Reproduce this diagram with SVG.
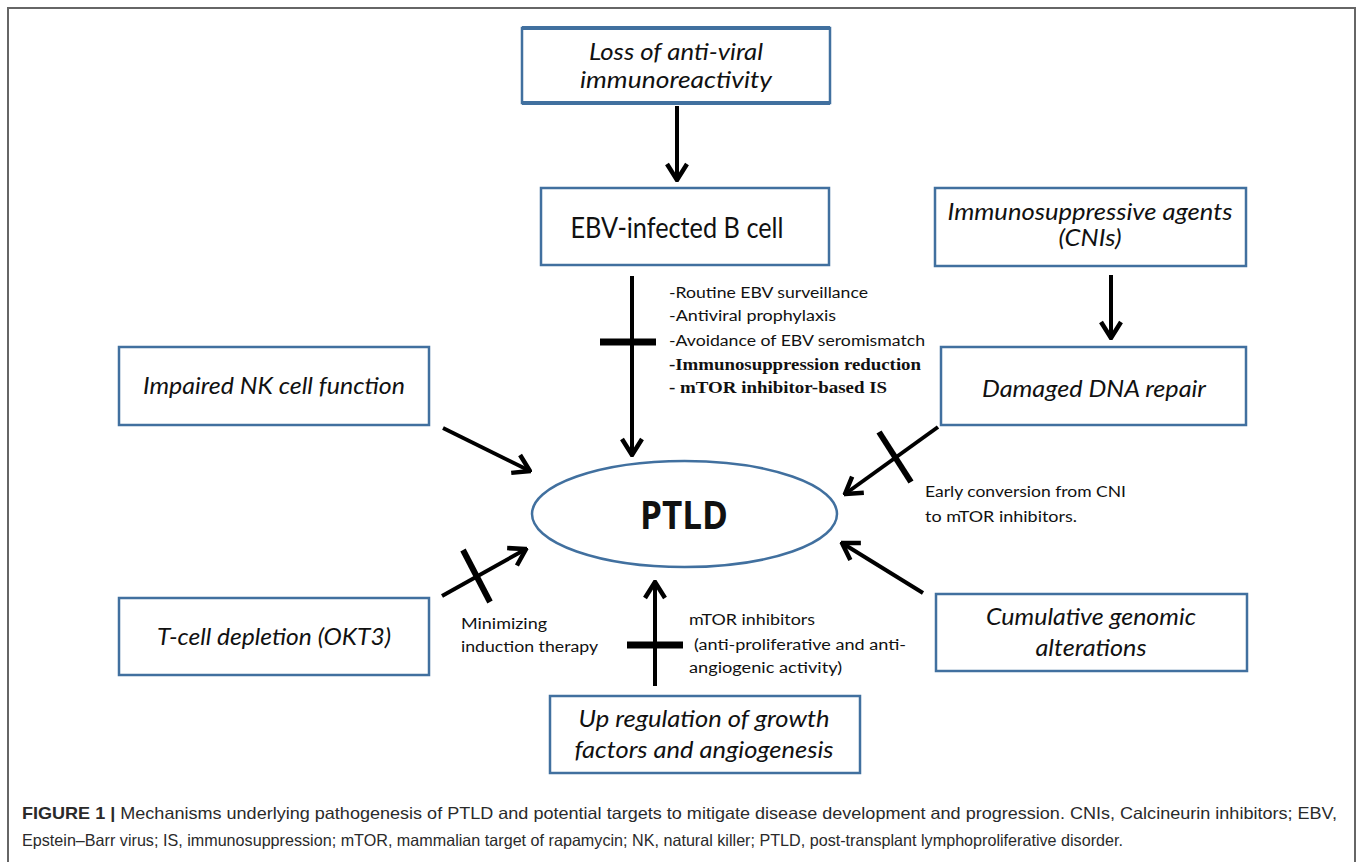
<svg xmlns="http://www.w3.org/2000/svg" width="1358" height="862" viewBox="0 0 1358 862">
<style>
.box{fill:#fff;stroke:#41709f;stroke-width:2.5}
.bt{font-family:Lato,"Open Sans",sans-serif;font-style:italic;font-size:23px;fill:#111;text-anchor:middle}
.ann{font-family:Lato,"Open Sans",sans-serif;font-size:15.5px;fill:#111}
.annb{font-family:"Liberation Serif",serif;font-weight:bold;font-size:16px;fill:#111}
.con{stroke:#000;stroke-width:4;fill:none}
.blk{stroke:#000;stroke-width:7;fill:none}
.cap{font-family:"Liberation Sans",Arial,sans-serif;font-size:16.5px;fill:#2a2a2a}
</style>
<defs>
<marker id="arr" viewBox="-20 -13 22 26" refX="0" refY="0" markerWidth="22" markerHeight="26" markerUnits="userSpaceOnUse" orient="auto">
<path d="M-16,-10 L0,0 L-16,10" stroke="#000" stroke-width="4.5" fill="none" stroke-linejoin="miter"/>
</marker>
</defs>
<rect x="0" y="0" width="1358" height="862" fill="#fff"/>
<rect x="8" y="8" width="1347" height="880" fill="none" stroke="#666" stroke-width="2"/>

<g id="connectors">
<line class="con" x1="677" y1="106" x2="677" y2="180" marker-end="url(#arr)"/>
<line class="con" x1="632" y1="276" x2="632" y2="455" marker-end="url(#arr)"/>
<line class="blk" x1="600" y1="342" x2="656" y2="342"/>
<line class="con" x1="1111" y1="275" x2="1111" y2="338" marker-end="url(#arr)"/>
<line class="con" x1="938" y1="427" x2="845" y2="494" marker-end="url(#arr)"/>
<line class="con" x1="879" y1="432" x2="911" y2="482" style="stroke-width:6"/>
<line class="con" x1="443" y1="428" x2="530" y2="471" marker-end="url(#arr)"/>
<line class="con" x1="442" y1="596" x2="526" y2="549" marker-end="url(#arr)"/>
<line class="con" x1="463" y1="550" x2="490" y2="602" style="stroke-width:6"/>
<line class="con" x1="655" y1="686" x2="655" y2="582" marker-end="url(#arr)"/>
<line class="blk" x1="627" y1="645" x2="683" y2="645"/>
<line class="con" x1="923" y1="593" x2="842" y2="543" marker-end="url(#arr)"/>
</g>

<g id="loss">
<rect class="box" x="522" y="28" width="308" height="75"/>
<line x1="522" y1="28" x2="830" y2="28" stroke="#41709f" stroke-width="4"/>
<line x1="522" y1="103" x2="830" y2="103" stroke="#41709f" stroke-width="4"/>
<text class="bt" x="676" y="60" textLength="174" lengthAdjust="spacingAndGlyphs">Loss of anti-viral</text>
<text class="bt" x="676" y="88" textLength="192" lengthAdjust="spacingAndGlyphs">immunoreactivity</text>
</g>

<g id="ebv">
<rect class="box" x="541" y="188" width="288" height="77"/>
<text x="677" y="238" font-family="Lato,'Open Sans',sans-serif" font-size="28" fill="#111" text-anchor="middle" textLength="213" lengthAdjust="spacingAndGlyphs">EBV-infected B cell</text>
</g>

<g id="ebv-ann">
<text class="ann" x="669" y="298" textLength="199" lengthAdjust="spacingAndGlyphs">-Routine EBV surveillance</text>
<text class="ann" x="669" y="321" textLength="167" lengthAdjust="spacingAndGlyphs">-Antiviral prophylaxis</text>
<text class="ann" x="669" y="346" textLength="256" lengthAdjust="spacingAndGlyphs">-Avoidance of EBV seromismatch</text>
<text class="annb" x="669" y="370" textLength="252" lengthAdjust="spacingAndGlyphs">-Immunosuppression reduction</text>
<text class="annb" x="669" y="393" textLength="218" lengthAdjust="spacingAndGlyphs">- mTOR inhibitor-based IS</text>
</g>

<g id="immuno">
<rect class="box" x="935" y="188" width="311" height="78"/>
<text class="bt" x="1090" y="220" textLength="285" lengthAdjust="spacingAndGlyphs">Immunosuppressive agents</text>
<text class="bt" x="1090" y="246" textLength="63" lengthAdjust="spacingAndGlyphs">(CNIs)</text>
</g>

<g id="dna">
<rect class="box" x="941" y="347" width="305" height="78"/>
<text class="bt" x="1094" y="397" textLength="224" lengthAdjust="spacingAndGlyphs">Damaged DNA repair</text>
</g>

<g id="dna-ann">
<text class="ann" x="925" y="497" textLength="201" lengthAdjust="spacingAndGlyphs">Early conversion from CNI</text>
<text class="ann" x="925" y="522" textLength="152" lengthAdjust="spacingAndGlyphs">to mTOR inhibitors.</text>
</g>

<g id="nk">
<rect class="box" x="119" y="347" width="310" height="78"/>
<text class="bt" x="274" y="394" textLength="262" lengthAdjust="spacingAndGlyphs">Impaired NK cell function</text>
</g>

<g id="ptld">
<ellipse cx="684.5" cy="514" rx="152.5" ry="53" fill="#fff" stroke="#41709f" stroke-width="2.5"/>
<text x="684" y="529" font-family="'Open Sans',Lato,sans-serif" font-weight="bold" font-size="40" fill="#111" text-anchor="middle" textLength="88" lengthAdjust="spacingAndGlyphs">PTLD</text>
</g>

<g id="tcell">
<rect class="box" x="119" y="598" width="310" height="77"/>
<text class="bt" x="274" y="645" textLength="234" lengthAdjust="spacingAndGlyphs">T-cell depletion (OKT3)</text>
</g>

<g id="tcell-ann">
<text class="ann" x="461" y="629" textLength="86" lengthAdjust="spacingAndGlyphs">Minimizing</text>
<text class="ann" x="461" y="652" textLength="137" lengthAdjust="spacingAndGlyphs">induction therapy</text>
</g>

<g id="upreg">
<rect class="box" x="550" y="696" width="310" height="77"/>
<text class="bt" x="704" y="727" textLength="251" lengthAdjust="spacingAndGlyphs">Up regulation of growth</text>
<text class="bt" x="704" y="758" textLength="259" lengthAdjust="spacingAndGlyphs">factors and angiogenesis</text>
</g>

<g id="upreg-ann">
<text class="ann" x="689" y="625" textLength="126" lengthAdjust="spacingAndGlyphs">mTOR inhibitors</text>
<text class="ann" x="694" y="650" textLength="212" lengthAdjust="spacingAndGlyphs">(anti-proliferative and anti-</text>
<text class="ann" x="689" y="673" textLength="153" lengthAdjust="spacingAndGlyphs">angiogenic activity)</text>
</g>

<g id="cumulative">
<rect class="box" x="936" y="594" width="311" height="77"/>
<text class="bt" x="1091" y="625" textLength="210" lengthAdjust="spacingAndGlyphs">Cumulative genomic</text>
<text class="bt" x="1091" y="656" textLength="111" lengthAdjust="spacingAndGlyphs">alterations</text>
</g>

<g id="caption">
<text class="cap" x="22" y="819" textLength="1315" lengthAdjust="spacingAndGlyphs"><tspan font-weight="bold">FIGURE 1 |</tspan> Mechanisms underlying pathogenesis of PTLD and potential targets to mitigate disease development and progression. CNIs, Calcineurin inhibitors; EBV,</text>
<text class="cap" x="22" y="846" textLength="1101" lengthAdjust="spacingAndGlyphs">Epstein–Barr virus; IS, immunosuppression; mTOR, mammalian target of rapamycin; NK, natural killer; PTLD, post-transplant lymphoproliferative disorder.</text>
</g>
</svg>
